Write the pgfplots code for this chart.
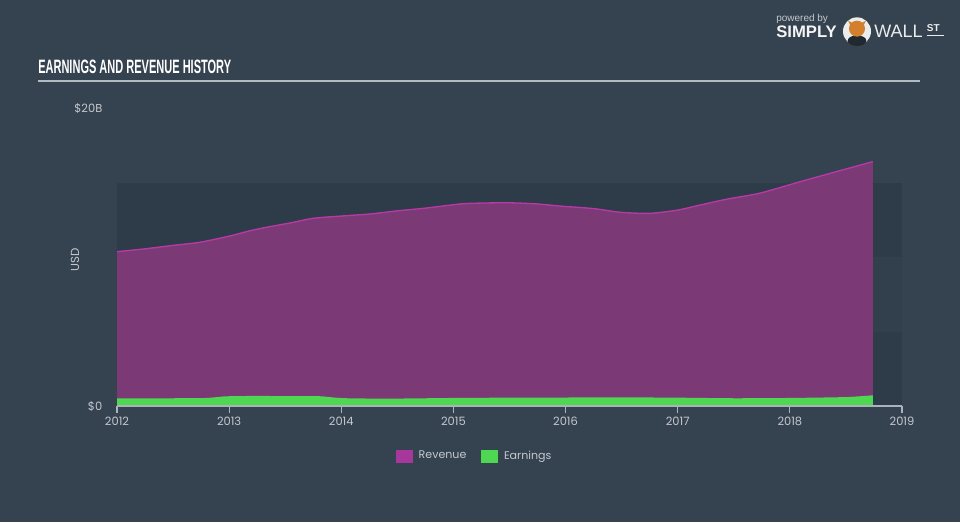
\documentclass[border=0pt]{standalone}
\usepackage{fontspec}
\setmainfont{Poppins}
\newfontfamily\titlefont[FakeStretch=0.57]{Liberation Sans Bold}
\newfontfamily\logofont{Liberation Sans}
\usepackage{pgfplots}
\pgfplotsset{compat=1.18}
\definecolor{bgc}{HTML}{354250}
\definecolor{banddark}{HTML}{2E3B49}
\definecolor{bandmid}{HTML}{323F4D}
\definecolor{revfill}{HTML}{7B3A75}
\definecolor{revline}{HTML}{B53AA5}
\definecolor{legrev}{HTML}{A8379B}
\definecolor{earn}{HTML}{4ED751}
\definecolor{txt}{HTML}{C3C8CE}
\definecolor{axl}{HTML}{AAB2BA}
\begin{document}
\begin{tikzpicture}
\fill[bgc] (0pt,0pt) rectangle (720pt,391.5pt);
% title
\node[anchor=base west, inner sep=0pt, text=white, font=\titlefont\fontsize{14.5}{16}\selectfont] at (28.5pt,336pt) {EARNINGS AND REVENUE HISTORY};
\draw[color=axl!90!white, line width=1.5pt] (28.5pt,330.75pt) -- (690pt,330.75pt);
% logo
\node[anchor=base west, inner sep=0pt, text=txt, font=\logofont\fontsize{7.5}{8}\selectfont] at (582pt,375pt) {powered by};
\node[anchor=base west, inner sep=0pt, text=white!92!gray, font=\logofont\bfseries\fontsize{12.5}{13}\selectfont] at (582pt,363.5pt) {SIMPLY};
\fill[white!85!gray] (642.75pt,368pt) circle (10.5pt);
\fill[bgc!60!black] (642.75pt,361pt) ellipse [x radius=7pt, y radius=4pt];
\fill[brown!70!orange] (642.75pt,370pt) circle (6pt);
\fill[brown!70!orange] (636pt,376pt) -- (638pt,372pt) -- (640pt,374pt) -- cycle;
\fill[brown!70!orange] (649.5pt,376pt) -- (647.5pt,372pt) -- (645.5pt,374pt) -- cycle;
\node[anchor=base west, inner sep=0pt, text=white!85!gray, font=\logofont\fontsize{13.5}{14}\selectfont] at (655.5pt,363.5pt) {WALL};
\node[anchor=base west, inner sep=0pt, text=white!85!gray, font=\logofont\bfseries\fontsize{7.5}{8}\selectfont] at (695pt,367.5pt) {ST};
\draw[white!85!gray, line width=0.8pt] (695pt,364.8pt) -- (708pt,364.8pt);
% USD label
\node[rotate=90, text=txt, font=\fontsize{8.8}{9}\selectfont] at (56.25pt,196.5pt) {USD};
\begin{axis}[
  at={(87.75pt,87pt)}, anchor=south west,
  scale only axis, width=588.75pt, height=223.5pt,
  xmin=2012, xmax=2019, ymin=0, ymax=20,
  axis x line*=bottom, axis y line*=left,
  y axis line style={draw=none},
  x axis line style={color=axl, line width=0.9pt},
  xtick={2012,2013,2014,2015,2016,2017,2018,2019},
  xticklabels={2012,2013,2014,2015,2016,2017,2018,2019},
  ytick={0,20}, yticklabels={\$0,\$20B},
  major x tick style={color=axl, line width=0.8pt},
  x tick label style={text=txt, font=\fontsize{8.6}{9}\selectfont, yshift=0.5pt},
  y tick label style={text=txt, font=\fontsize{8.6}{9}\selectfont, xshift=-7.5pt},
  xtick align=outside, ytick style={draw=none},
  major tick length=5pt,
  /pgf/number format/assume math mode=true,
  legend style={at={(0.456,-0.168)}, anchor=center, draw=none, fill=none,
    text=txt, font=\fontsize{8.3}{9}\selectfont, legend columns=2,
    /tikz/every even column/.append style={column sep=9pt}},
  axis on top,
]
\fill[banddark] (axis cs:2012,0) rectangle (axis cs:2019,5);
\fill[bandmid] (axis cs:2012,5) rectangle (axis cs:2019,10);
\fill[banddark] (axis cs:2012,10) rectangle (axis cs:2019,15);
\addplot[fill=revfill, draw=none, smooth, tension=0.4, forget plot] coordinates {
(2012.00,10.36)(2012.25,10.55)(2012.50,10.78)(2012.74,10.99)(2013.00,11.40)
(2013.19,11.77)(2013.35,12.02)(2013.54,12.28)(2013.75,12.60)(2014.00,12.75)
(2014.26,12.89)(2014.50,13.10)(2014.75,13.28)(2015.06,13.56)(2015.25,13.62)
(2015.50,13.64)(2015.75,13.56)(2015.95,13.42)(2016.25,13.25)(2016.49,13.00)
(2016.75,12.93)(2017.00,13.15)(2017.20,13.49)(2017.45,13.90)(2017.73,14.28)
(2018.09,15.05)(2018.40,15.70)(2018.74,16.40)} \closedcycle;
\addplot[draw=revline, line width=1pt, smooth, tension=0.4, forget plot] coordinates {
(2012.00,10.36)(2012.25,10.55)(2012.50,10.78)(2012.74,10.99)(2013.00,11.40)
(2013.19,11.77)(2013.35,12.02)(2013.54,12.28)(2013.75,12.60)(2014.00,12.75)
(2014.26,12.89)(2014.50,13.10)(2014.75,13.28)(2015.06,13.56)(2015.25,13.62)
(2015.50,13.64)(2015.75,13.56)(2015.95,13.42)(2016.25,13.25)(2016.49,13.00)
(2016.75,12.93)(2017.00,13.15)(2017.20,13.49)(2017.45,13.90)(2017.73,14.28)
(2018.09,15.05)(2018.40,15.70)(2018.74,16.40)};
\addplot[fill=earn, draw=none, smooth, tension=0.4, forget plot] coordinates {
(2012.0,0.52)(2012.5,0.52)(2012.8,0.54)(2012.95,0.64)(2013.1,0.67)(2013.5,0.67)
(2013.8,0.66)(2013.95,0.56)(2014.1,0.51)(2014.5,0.50)(2015.0,0.54)(2015.5,0.56)
(2016.0,0.57)(2016.5,0.58)(2017.0,0.56)(2017.5,0.52)(2018.0,0.54)(2018.5,0.60)
(2018.74,0.72)} \closedcycle;
\addlegendimage{legend image code/.code={\fill[legrev] (0pt,-4.5pt) rectangle (12pt,4.5pt); \path[draw=none,fill=none] (15pt,0pt);}}
\addlegendentry{Revenue}
\addlegendimage{legend image code/.code={\fill[earn] (0pt,-4.5pt) rectangle (12pt,4.5pt); \path[draw=none,fill=none] (15pt,0pt);}}
\addlegendentry{Earnings}
\end{axis}
\end{tikzpicture}
\end{document}
